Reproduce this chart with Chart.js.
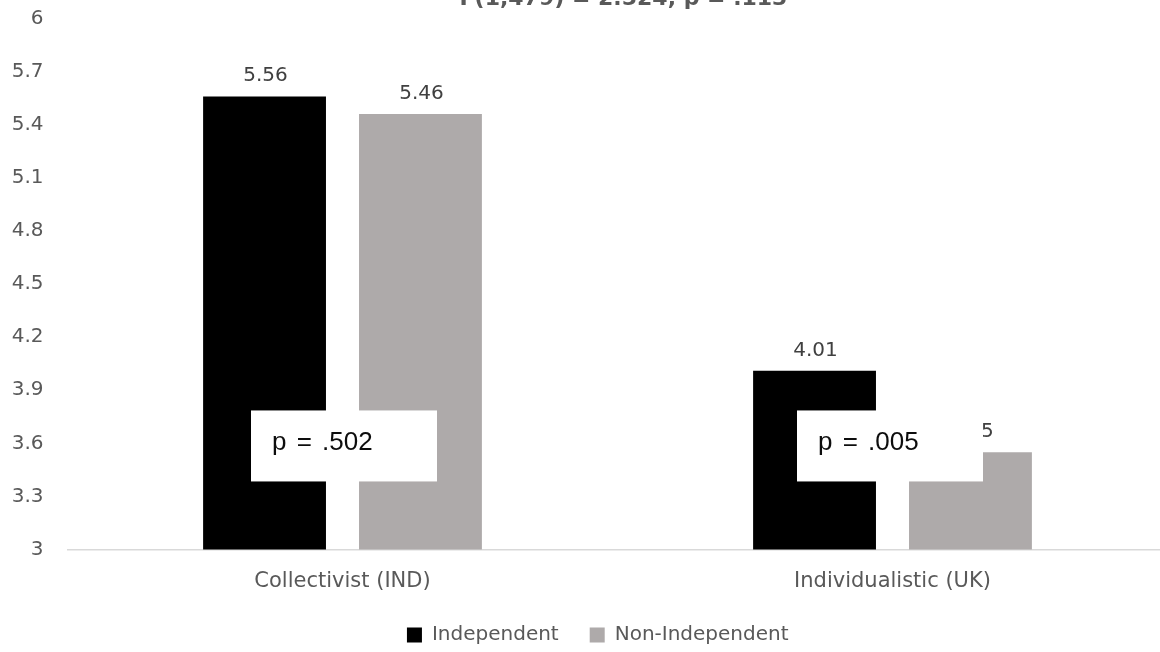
<!DOCTYPE html>
<html>
<head>
<meta charset="utf-8">
<script src="https://cdn.jsdelivr.net/npm/chart.js@4"></script>
<style>
  html, body { margin: 0; padding: 0; background: #ffffff; overflow: hidden; }
  #wrap { position: relative; width: 1160px; height: 652px; overflow: hidden; background: #ffffff; }
  #c { position: absolute; left: 0; top: 0; }
</style>
</head>
<body>
<div id="wrap"><canvas id="c" width="1200" height="652"></canvas></div>
<script>
// Group means by culture and self-construal
const categories = ['Collectivist (IND)', 'Individualistic (UK)'];
const seriesNames = ['Independent', 'Non-Independent'];
const independentMeans = [5.56, 4.01];
const nonIndependentMeans = [5.46, 3.55];
const pLabels = ['p = .502', 'p = .005'];
const yTickValues = [3, 3.3, 3.6, 3.9, 4.2, 4.5, 4.8, 5.1, 5.4, 5.7, 6];
const yTickLabels = ['3', '3.3', '3.6', '3.9', '4.2', '4.5', '4.8', '5.1', '5.4', '5.7', '6'];
const titleText = 'F(1,479) = 2.524, p = .113';

const FONT = '"DejaVu Sans", Verdana, sans-serif';
const TEXT_GREY = '#595959';

// Value labels above every bar
const valueLabels = {
  id: 'valueLabels',
  afterDatasetsDraw(chart) {
    const ctx = chart.ctx;
    ctx.save();
    ctx.font = '20px ' + FONT;
    ctx.fillStyle = '#404040';
    ctx.textAlign = 'center';
    ctx.textBaseline = 'alphabetic';
    chart.data.datasets.forEach((ds, di) => {
      const meta = chart.getDatasetMeta(di);
      meta.data.forEach((bar, i) => {
        ctx.fillText(String(ds.data[i]), bar.x + 1, bar.y - 15);
      });
    });
    ctx.restore();
  }
};

// White annotation boxes with the per-group p values
const pBoxes = {
  id: 'pBoxes',
  afterDraw(chart, args, opts) {
    const ctx = chart.ctx;
    const xs = chart.scales.x, ys = chart.scales.y;
    ctx.save();
    pLabels.forEach((txt, i) => {
      const cx = xs.getPixelForValue(i) + opts.dx[i];
      const cy = ys.getPixelForValue(opts.level);
      const left = cx - opts.width / 2;
      const top = cy - opts.height / 2;
      ctx.fillStyle = '#ffffff';
      ctx.fillRect(left, top, opts.width, opts.height);
      ctx.fillStyle = '#0d0d0d';
      ctx.font = '26px "Liberation Sans", Arial, sans-serif';
      ctx.textAlign = 'left';
      ctx.textBaseline = 'middle';
      try { ctx.wordSpacing = '3px'; } catch (e) {}
      ctx.fillText(txt, left + opts.padX, cy - 3);
    });
    ctx.restore();
  }
};

// Overall test line above the plot
const topTitle = {
  id: 'topTitle',
  afterDraw(chart) {
    const ctx = chart.ctx;
    const a = chart.chartArea;
    ctx.save();
    ctx.font = 'bold 22px ' + FONT;
    ctx.fillStyle = TEXT_GREY;
    ctx.textAlign = 'center';
    ctx.textBaseline = 'alphabetic';
    ctx.fillText(titleText, (a.left + a.right) / 2 + 6, 5);
    ctx.restore();
  }
};

// Nudge the legend row so it sits centred under the page
const legendNudge = {
  id: 'legendNudge',
  afterLayout(chart) {
    const lg = chart.legend;
    if (!lg) return;
    lg.left += 8; lg.right += 8;
    lg.top += 3; lg.bottom += 3;
  }
};

new Chart(document.getElementById('c'), {
  type: 'bar',
  data: {
    labels: categories,
    datasets: [
      {
        label: seriesNames[0],
        data: independentMeans,
        backgroundColor: '#000000',
        borderWidth: 0,
        categoryPercentage: 0.567,
        barPercentage: 0.788
      },
      {
        label: seriesNames[1],
        data: nonIndependentMeans,
        backgroundColor: '#AEAAAA',
        borderWidth: 0,
        categoryPercentage: 0.567,
        barPercentage: 0.788
      }
    ]
  },
  options: {
    responsive: false,
    animation: false,
    devicePixelRatio: 1,
    layout: { padding: { top: 18.5, left: 12, right: 32.5, bottom: 0 } },
    scales: {
      x: {
        grid: { display: false, drawTicks: false },
        border: { display: true, color: '#D9D9D9', width: 1.5 },
        ticks: {
          color: TEXT_GREY,
          font: { family: FONT, size: 21 },
          padding: 19,
          maxRotation: 0
        },
        afterFit(scale) { scale.height = 41.5; }
      },
      y: {
        min: 3,
        max: 6,
        grid: {
          display: true,
          drawOnChartArea: false,
          drawTicks: true,
          tickLength: 24,
          color: 'rgba(0,0,0,0)'
        },
        border: { display: false },
        afterBuildTicks(scale) {
          scale.ticks = yTickValues.map(v => ({ value: v }));
        },
        ticks: {
          color: TEXT_GREY,
          font: { family: FONT, size: 20 },
          padding: 0,
          callback(value) {
            const idx = yTickValues.findIndex(v => Math.abs(v - value) < 1e-6);
            return idx >= 0 ? yTickLabels[idx] : '';
          }
        },
        afterFit(scale) { scale.width = 55.5; }
      }
    },
    plugins: {
      legend: {
        position: 'bottom',
        labels: {
          color: TEXT_GREY,
          font: { family: FONT, size: 20 },
          boxWidth: 15,
          boxHeight: 15,
          padding: 31
        }
      },
      tooltip: { enabled: false },
      pBoxes: { level: 3.585, width: 186, height: 71, padX: 21, dx: [1.5, -2.5] }
    }
  },
  plugins: [valueLabels, pBoxes, topTitle, legendNudge]
});
</script>
</body>
</html>
